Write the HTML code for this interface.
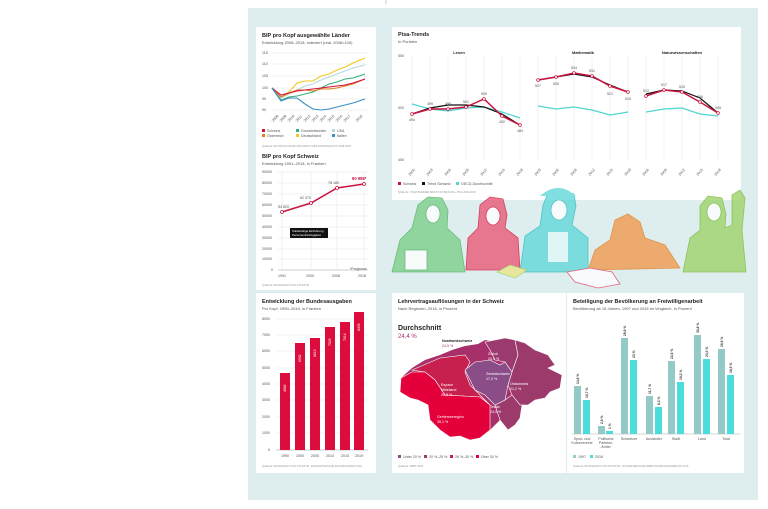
<!DOCTYPE html>
<html><head><meta charset="utf-8"><style>
html,body{margin:0;padding:0;background:#fff}
svg{display:block;font-family:"Liberation Sans",sans-serif}
.t{font-size:5.5px;font-weight:bold;fill:#222}
.s{font-size:4px;fill:#555}
.a{font-size:3.6px;fill:#555}
.g{stroke:#e4e4e4;stroke-width:0.5}
</style></head><body>
<svg width="768" height="509" viewBox="0 0 768 509">
<rect x="0" y="0" width="768" height="509" fill="#fff"/>
<line x1="386" y1="0" x2="386" y2="4" stroke="#999" stroke-width="0.5"/>
<rect x="248" y="8" width="510" height="492" fill="#deeeee"/>
<rect x="256" y="27" width="120" height="263" fill="#fff"/>
<rect x="392" y="27" width="349" height="173" fill="#fff"/>
<rect x="256" y="293" width="120" height="180" fill="#fff"/>
<rect x="392" y="293" width="174" height="180" fill="#fff"/>
<rect x="567" y="293" width="177" height="180" fill="#fff"/>

<text x="262" y="37" class="t">BIP pro Kopf ausgewählte Länder</text>
<text x="262" y="44" class="s">Entwicklung 2008–2018, indexiert (real, 2008=100)</text>
<g class="a">
<text x="262" y="54">115</text><text x="262" y="65">110</text><text x="262" y="77">105</text><text x="262" y="89">100</text><text x="262" y="100">95</text><text x="262" y="111">90</text>
</g>
<g class="g"><line x1="272" y1="53" x2="368" y2="53"/><line x1="272" y1="64" x2="368" y2="64"/><line x1="272" y1="76" x2="368" y2="76"/><line x1="272" y1="88" x2="368" y2="88"/><line x1="272" y1="99" x2="368" y2="99"/><line x1="272" y1="110" x2="368" y2="110"/></g>
<g fill="none" stroke-width="1.1">
<polyline stroke="#f2c81e" points="272,88 281,97 289,92 297,83 305,81 313,81 321,76 329,74 337,70 345,67 353,63 365,58"/>
<polyline stroke="#b5d9dc" points="272,88 281,98 289,94 297,90 305,86 313,84 321,80 329,77 337,74 345,71 353,68 365,65"/>
<polyline stroke="#34b07a" points="272,88 281,100 289,97 297,96 305,94 313,92 321,88 329,84 337,82 345,79 353,78 365,74"/>
<polyline stroke="#e07e1f" points="272,88 281,97 289,93 297,90 305,90 313,91 321,89 329,89 337,88 345,86 353,84 365,79"/>
<polyline stroke="#d4133d" points="272,88 281,95 289,93 297,91 305,90 313,89 321,88 329,87 337,86 345,85 353,83 365,79"/>
<polyline stroke="#3b8fc2" points="272,88 281,101 289,98 297,98 305,104 313,109 321,110 329,109 337,107 345,105 353,103 365,99"/>
</g>
<g class="a">
<text transform="translate(273,122) rotate(-45)">2008</text><text transform="translate(281,122) rotate(-45)">2009</text><text transform="translate(289,122) rotate(-45)">2010</text><text transform="translate(297,122) rotate(-45)">2011</text><text transform="translate(305,122) rotate(-45)">2012</text><text transform="translate(313,122) rotate(-45)">2013</text><text transform="translate(321,122) rotate(-45)">2014</text><text transform="translate(329,122) rotate(-45)">2015</text><text transform="translate(337,122) rotate(-45)">2016</text><text transform="translate(345,122) rotate(-45)">2017</text><text transform="translate(357,122) rotate(-45)">2018</text>
</g>
<rect x="262" y="129" width="3" height="3" fill="#d4133d"/><text x="267" y="132" class="a">Schweiz</text>
<rect x="262" y="134" width="3" height="3" fill="#e07e1f"/><text x="267" y="137" class="a">Österreich</text>
<rect x="296" y="129" width="3" height="3" fill="#34b07a"/><text x="301" y="132" class="a">Grossbritannien</text>
<rect x="296" y="134" width="3" height="3" fill="#f2c81e"/><text x="301" y="137" class="a">Deutschland</text>
<rect x="332" y="129" width="3" height="3" fill="#b5d9dc"/><text x="337" y="132" class="a">USA</text>
<rect x="332" y="134" width="3" height="3" fill="#3b8fc2"/><text x="337" y="137" class="a">Italien</text>
<text x="262" y="147" style="font-size:2.6px;fill:#999">QUELLE: ENTWICKLUNGEN DES BRUTTOINLANDPRODUKTS 2008-2018</text>

<text x="262" y="158" class="t">BIP pro Kopf Schweiz</text>
<text x="262" y="165" class="s">Entwicklung 1991–2018, in Franken</text>
<g class="a">
<text x="262" y="173">90000</text><text x="262" y="184">80000</text><text x="262" y="195">70000</text><text x="262" y="206">60000</text><text x="262" y="217">50000</text><text x="262" y="228">40000</text><text x="262" y="239">30000</text><text x="262" y="250">20000</text><text x="262" y="260">10000</text><text x="271" y="271">0</text>
</g>
<g class="g"><line x1="278" y1="172" x2="368" y2="172"/><line x1="278" y1="183" x2="368" y2="183"/><line x1="278" y1="194" x2="368" y2="194"/><line x1="278" y1="205" x2="368" y2="205"/><line x1="278" y1="216" x2="368" y2="216"/><line x1="278" y1="227" x2="368" y2="227"/><line x1="278" y1="238" x2="368" y2="238"/><line x1="278" y1="249" x2="368" y2="249"/><line x1="278" y1="259" x2="368" y2="259"/><line x1="278" y1="270" x2="368" y2="270" stroke="#999"/>
<line x1="282" y1="172" x2="282" y2="270"/><line x1="311" y1="172" x2="311" y2="270"/><line x1="337" y1="172" x2="337" y2="270"/><line x1="364" y1="172" x2="364" y2="270"/></g>
<polyline fill="none" stroke="#c8143f" stroke-width="1.5" points="282,212 311,203 337,188 364,184"/>
<g fill="#fff" stroke="#c8143f" stroke-width="0.8"><circle cx="282" cy="212" r="1.5"/><circle cx="311" cy="203" r="1.5"/><circle cx="337" cy="188" r="1.5"/><circle cx="364" cy="184" r="1.5"/></g>
<g class="a"><text x="278" y="208">54 820</text><text x="300" y="199">62 379</text><text x="328" y="184">78 180</text></g>
<text x="352" y="180" style="font-size:4.2px;font-weight:bold;fill:#c8143f">80 986*</text>
<rect x="290" y="228" width="38" height="10" fill="#111"/>
<text x="292" y="232" style="font-size:3px;fill:#fff">Vollständige Einführung</text>
<text x="292" y="236" style="font-size:3px;fill:#fff">Personenfreizügigkeit</text>
<g class="a"><text x="278" y="277">1991</text><text x="306" y="277">2000</text><text x="332" y="277">2008</text><text x="358" y="277">2018</text><text x="350" y="270">*Prognose</text></g>
<text x="262" y="286" style="font-size:2.6px;fill:#999">QUELLE: BUNDESAMT FÜR STATISTIK</text>

<text x="398" y="36" class="t">Pisa-Trends</text>
<text x="398" y="43" class="s">In Punkten</text>
<g style="font-size:4px;font-weight:bold;fill:#222"><text x="459" y="54" text-anchor="middle">Lesen</text><text x="583" y="54" text-anchor="middle">Mathematik</text><text x="682" y="54" text-anchor="middle">Naturwissenschaften</text></g>
<g class="a"><text x="398" y="57">550</text><text x="398" y="109">500</text><text x="398" y="161">450</text></g>
<g class="g">
<line x1="412" y1="56" x2="412" y2="160"/><line x1="430" y1="56" x2="430" y2="160"/><line x1="448" y1="56" x2="448" y2="160"/><line x1="466" y1="56" x2="466" y2="160"/><line x1="484" y1="56" x2="484" y2="160"/><line x1="502" y1="56" x2="502" y2="160"/><line x1="520" y1="56" x2="520" y2="160"/>
<line x1="538" y1="56" x2="538" y2="160"/><line x1="556" y1="56" x2="556" y2="160"/><line x1="574" y1="56" x2="574" y2="160"/><line x1="592" y1="56" x2="592" y2="160"/><line x1="610" y1="56" x2="610" y2="160"/><line x1="628" y1="56" x2="628" y2="160"/>
<line x1="646" y1="56" x2="646" y2="160"/><line x1="664" y1="56" x2="664" y2="160"/><line x1="682" y1="56" x2="682" y2="160"/><line x1="700" y1="56" x2="700" y2="160"/><line x1="718" y1="56" x2="718" y2="160"/>
</g>
<g fill="none" stroke-width="1.2">
<polyline stroke="#4fd6d0" points="412,104 430,109 448,111 466,108 484,107 502,112 520,118"/>
<polyline stroke="#4fd6d0" points="538,106 556,109 574,107 592,110 610,115 628,112"/>
<polyline stroke="#4fd6d0" points="646,112 664,109 682,108 700,114 718,116"/>
<polyline stroke="#111" points="412,114 430,108 448,105 466,105 484,107 502,114 520,125"/>
<polyline stroke="#111" points="538,80 556,77 574,74 592,77 610,85 628,92"/>
<polyline stroke="#111" points="646,94 664,90 682,91 700,98 718,113"/>
<polyline stroke="#c8143f" stroke-width="1.5" points="412,114 430,109 448,109 466,107 484,99 502,116 520,125"/>
<polyline stroke="#c8143f" stroke-width="1.5" points="538,80 556,77 574,73 592,76 610,86 628,92"/>
<polyline stroke="#c8143f" stroke-width="1.5" points="646,96 664,90 682,92 700,102 718,113"/>
</g>
<g fill="#fff" stroke="#c8143f" stroke-width="0.7">
<circle cx="412" cy="114" r="1.4"/><circle cx="430" cy="109" r="1.4"/><circle cx="448" cy="109" r="1.4"/><circle cx="466" cy="107" r="1.4"/><circle cx="484" cy="99" r="1.4"/><circle cx="502" cy="116" r="1.4"/><circle cx="520" cy="125" r="1.4"/>
<circle cx="538" cy="80" r="1.4"/><circle cx="556" cy="77" r="1.4"/><circle cx="574" cy="73" r="1.4"/><circle cx="592" cy="76" r="1.4"/><circle cx="610" cy="86" r="1.4"/><circle cx="628" cy="92" r="1.4"/>
<circle cx="646" cy="96" r="1.4"/><circle cx="664" cy="90" r="1.4"/><circle cx="682" cy="92" r="1.4"/><circle cx="700" cy="102" r="1.4"/><circle cx="718" cy="113" r="1.4"/>
</g>
<g class="a" text-anchor="middle">
<text x="412" y="121">494</text><text x="430" y="105">499</text><text x="448" y="105">499</text><text x="466" y="103">501</text><text x="484" y="95">509</text><text x="502" y="123">492</text><text x="520" y="132">484</text>
<text x="538" y="87">527</text><text x="556" y="85">530</text><text x="574" y="69">534</text><text x="592" y="72">531</text><text x="610" y="95">521</text><text x="628" y="100">515</text>
<text x="646" y="92">512</text><text x="664" y="86">517</text><text x="682" y="88">515</text><text x="700" y="98">506</text><text x="718" y="109">495</text>
</g>
<g class="a">
<text transform="translate(410,176) rotate(-50)">2000</text><text transform="translate(428,176) rotate(-50)">2003</text><text transform="translate(446,176) rotate(-50)">2006</text><text transform="translate(464,176) rotate(-50)">2009</text><text transform="translate(482,176) rotate(-50)">2012</text><text transform="translate(500,176) rotate(-50)">2015</text><text transform="translate(518,176) rotate(-50)">2018</text>
<text transform="translate(536,176) rotate(-50)">2003</text><text transform="translate(554,176) rotate(-50)">2006</text><text transform="translate(572,176) rotate(-50)">2009</text><text transform="translate(590,176) rotate(-50)">2012</text><text transform="translate(608,176) rotate(-50)">2015</text><text transform="translate(626,176) rotate(-50)">2018</text>
<text transform="translate(644,176) rotate(-50)">2006</text><text transform="translate(662,176) rotate(-50)">2009</text><text transform="translate(680,176) rotate(-50)">2012</text><text transform="translate(698,176) rotate(-50)">2015</text><text transform="translate(716,176) rotate(-50)">2018</text>
</g>
<rect x="398" y="182" width="3" height="3" fill="#c8143f"/><text x="403" y="185" class="a">Schweiz</text>
<rect x="422" y="182" width="3" height="3" fill="#111"/><text x="427" y="185" class="a">Trend Schweiz</text>
<rect x="456" y="182" width="3" height="3" fill="#4fd6d0"/><text x="461" y="185" class="a">OECD-Durchschnitt</text>
<text x="398" y="193" style="font-size:2.6px;fill:#999">QUELLE: STAATSSEKRETARIAT FÜR BILDUNG, PISA 2000-2018</text>

<!-- illustrations -->
<g opacity="0.8" stroke-width="0.8">
<path d="M392,272 L400,240 L412,228 L418,205 L428,197 L442,198 L448,210 L447,228 L460,240 L465,272 Z" fill="#7dcf8a" stroke="#4fae62"/>
<ellipse cx="433" cy="214" rx="7" ry="9" fill="#fff" stroke="#4fae62"/>
<rect x="405" y="250" width="22" height="20" fill="#fff" stroke="#4fae62"/>
<path d="M466,270 L468,238 L478,228 L480,205 L490,197 L503,199 L507,215 L505,228 L518,238 L520,270 Z" fill="#ea5a78" stroke="#d4133d"/>
<ellipse cx="493" cy="216" rx="7" ry="9" fill="#fff" stroke="#d4133d"/>
<path d="M520,272 L525,236 L540,226 L543,205 L548,193 L560,190 L574,194 L576,206 L572,225 L588,238 L588,272 Z" fill="#63d8da" stroke="#2fb9bd"/>
<path d="M540,196 Q558,180 576,196 Z" fill="#63d8da"/>
<ellipse cx="559" cy="210" rx="8" ry="10" fill="#fff" stroke="#2fb9bd"/>
<rect x="548" y="232" width="20" height="30" fill="#fff" opacity="0.8"/>
<path d="M588,270 L595,250 L610,240 L615,220 L628,214 L640,222 L645,238 L665,245 L680,268 Z" fill="#f09a4f" stroke="#e07e1f"/>
<path d="M683,272 L690,238 L700,230 L700,206 L708,196 L722,198 L726,214 L725,228 L732,225 L732,195 L740,190 L745,198 L742,230 L746,272 Z" fill="#9fd36b" stroke="#7ab83a"/>
<ellipse cx="714" cy="212" rx="7" ry="9" fill="#fff" stroke="#7ab83a"/>
<path d="M497,272 L510,265 L527,270 L515,278 Z" fill="#e8e58a" stroke="#8ec853" stroke-width="0.6"/>
<path d="M567,272 L590,268 L612,272 L620,284 L598,288 L575,282 Z" fill="#fff" stroke="#e43f62"/>
</g>

<text x="262" y="303" class="t">Entwicklung der Bundesausgaben</text>
<text x="262" y="310" class="s">Pro Kopf, 1990–2019, in Franken</text>
<g class="a">
<text x="262" y="320">8000</text><text x="262" y="336">7000</text><text x="262" y="352">6000</text><text x="262" y="369">5000</text><text x="262" y="385">4000</text><text x="262" y="401">3000</text><text x="262" y="418">2000</text><text x="262" y="434">1000</text><text x="268" y="451">0</text>
</g>
<g class="g"><line x1="276" y1="319" x2="368" y2="319"/><line x1="276" y1="335" x2="368" y2="335"/><line x1="276" y1="351" x2="368" y2="351"/><line x1="276" y1="368" x2="368" y2="368"/><line x1="276" y1="384" x2="368" y2="384"/><line x1="276" y1="400" x2="368" y2="400"/><line x1="276" y1="417" x2="368" y2="417"/><line x1="276" y1="433" x2="368" y2="433"/><line x1="276" y1="450" x2="368" y2="450" stroke="#999"/></g>
<g fill="#dc0d3c">
<rect x="280" y="373" width="10" height="77"/><rect x="295" y="343" width="10" height="107"/><rect x="310" y="338" width="10" height="112"/><rect x="325" y="327" width="10" height="123"/><rect x="340" y="322" width="10" height="128"/><rect x="354" y="312" width="10" height="138"/>
</g>
<g style="font-size:3.4px;fill:#fff">
<text transform="translate(286,392) rotate(-90)">4682</text><text transform="translate(301,362) rotate(-90)">6542</text><text transform="translate(316,357) rotate(-90)">6815</text><text transform="translate(331,346) rotate(-90)">7529</text><text transform="translate(346,341) rotate(-90)">7814</text><text transform="translate(360,331) rotate(-90)">8439</text>
</g>
<g class="a" text-anchor="middle"><text x="285" y="457">1990</text><text x="300" y="457">2000</text><text x="315" y="457">2005</text><text x="330" y="457">2010</text><text x="345" y="457">2015</text><text x="359" y="457">2019</text></g>
<text x="262" y="467" style="font-size:2.6px;fill:#999">QUELLE: BUNDESAMT FÜR STATISTIK, EIDGENÖSSISCHE FINANZVERWALTUNG</text>

<text x="398" y="303" class="t">Lehrvertragsauflösungen in der Schweiz</text>
<text x="398" y="310" class="s">Nach Regionen, 2016, in Prozent</text>
<text x="398" y="330" style="font-size:7px;font-weight:bold;fill:#222">Durchschnitt</text>
<text x="398" y="338" style="font-size:6px;fill:#a8306a">24,4 %</text>
<polygon fill="#a8306a" points="401,378 412,368 425,360 440,355 452,350 465,346 478,344 485,340 495,342 505,338 515,340 525,343 535,350 548,355 555,365 548,368 562,375 560,388 550,392 545,398 535,400 528,405 522,405 520,418 515,425 508,430 500,420 490,430 480,438 470,440 460,436 450,437 440,430 430,420 428,405 418,400 410,398 400,392"/>
<g stroke="#fff" stroke-width="0.6">
<polygon fill="#c8204e" points="412,370 440,358 465,355 470,362 465,372 470,385 480,395 490,405 480,397 445,395 435,380 425,372"/>
<polygon fill="#e4003a" points="401,378 412,372 425,372 435,380 445,395 480,397 490,405 490,430 480,438 470,440 460,436 450,437 440,430 430,420 428,405 418,400 410,398 400,392"/>
<polygon fill="#9b3a6e" points="485,342 505,338 515,340 518,355 512,372 505,362 495,360 490,350"/>
<polygon fill="#9c3a6c" points="515,340 525,343 535,350 548,355 555,365 548,368 562,375 560,388 550,392 545,398 535,400 528,405 520,405 512,395 508,385 512,372 518,355"/>
<polygon fill="#9c3a6c" points="505,400 512,395 520,405 522,405 520,418 515,425 508,430 500,420 495,405"/>
<polygon fill="#8a4d88" points="465,370 475,362 490,360 500,365 505,362 512,372 508,385 505,400 495,405 485,395 475,390 470,380"/>
</g>
<g style="font-size:3.6px;fill:#fff">
<text x="486" y="375">Zentralschweiz</text><text x="486" y="380">17,3 %</text>
<text x="441" y="386">Espace</text><text x="441" y="391">Mittelland</text><text x="441" y="396">26,8 %</text>
<text x="437" y="418">Genferseeregion</text><text x="437" y="423">35,1 %</text>
<text x="488" y="355">Zürich</text><text x="488" y="360">20,4 %</text>
<text x="510" y="385">Ostschweiz</text><text x="510" y="390">21,2 %</text>
<text x="490" y="408">Tessin</text><text x="490" y="413">24,9 %</text>
</g>
<text x="442" y="342" style="font-size:3.6px;font-weight:bold;fill:#222">Nordwestschweiz</text>
<text x="442" y="347" style="font-size:3.6px;fill:#a8306a">24,5 %</text>
<g class="a">
<rect x="398" y="455" width="3" height="3" fill="#8a4d88"/><text x="403" y="458">Unter 20 %</text>
<rect x="424" y="455" width="3" height="3" fill="#9c3a6c"/><text x="429" y="458">20 %–25 %</text>
<rect x="450" y="455" width="3" height="3" fill="#c8204e"/><text x="455" y="458">26 %–30 %</text>
<rect x="476" y="455" width="3" height="3" fill="#e4003a"/><text x="481" y="458">Über 30 %</text>
</g>
<text x="398" y="467" style="font-size:2.6px;fill:#999">QUELLE: SBBK 2018</text>

<text x="573" y="303" class="t">Beteiligung der Bevölkerung an Freiwilligenarbeit</text>
<text x="573" y="310" class="s">Bevölkerung ab 15 Jahren, 1997 und 2016 im Vergleich, in Prozent</text>
<line x1="572" y1="434" x2="740" y2="434" stroke="#999" stroke-width="0.4"/>
<g fill="#93c9c6">
<rect x="574" y="386" width="7" height="48"/><rect x="598" y="426" width="7" height="8"/><rect x="621" y="338" width="7" height="96"/><rect x="646" y="396" width="7" height="38"/><rect x="668" y="361" width="7" height="73"/><rect x="694" y="335" width="7" height="99"/><rect x="718" y="349" width="7" height="85"/>
</g>
<g fill="#4bdcdc">
<rect x="583" y="400" width="7" height="34"/><rect x="606" y="431" width="7" height="3"/><rect x="630" y="360" width="7" height="74"/><rect x="655" y="407" width="7" height="27"/><rect x="677" y="382" width="7" height="52"/><rect x="703" y="359" width="7" height="75"/><rect x="727" y="375" width="7" height="59"/>
</g>
<g style="font-size:3.3px;font-weight:bold;fill:#333">
<text transform="translate(579,384) rotate(-90)">14,8 %</text><text transform="translate(588,398) rotate(-90)">10,7 %</text>
<text transform="translate(603,424) rotate(-90)">2,6 %</text><text transform="translate(611,429) rotate(-90)">1 %</text>
<text transform="translate(626,336) rotate(-90)">29,9 %</text><text transform="translate(635,358) rotate(-90)">23 %</text>
<text transform="translate(651,394) rotate(-90)">11,7 %</text><text transform="translate(660,405) rotate(-90)">8,3 %</text>
<text transform="translate(673,359) rotate(-90)">22,8 %</text><text transform="translate(682,380) rotate(-90)">16,2 %</text>
<text transform="translate(699,333) rotate(-90)">30,8 %</text><text transform="translate(708,357) rotate(-90)">23,4 %</text>
<text transform="translate(723,347) rotate(-90)">26,5 %</text><text transform="translate(732,373) rotate(-90)">18,5 %</text>
</g>
<g class="a" text-anchor="middle">
<text x="582" y="440">Sport- und</text><text x="582" y="444">Kulturvereine</text>
<text x="606" y="440">Politische</text><text x="606" y="444">Parteien,</text><text x="606" y="448">Ämter</text>
<text x="629" y="440">Schweizer</text><text x="654" y="440">Ausländer</text><text x="676" y="440">Stadt</text><text x="702" y="440">Land</text><text x="726" y="440">Total</text>
</g>
<rect x="573" y="455" width="3" height="3" fill="#93c9c6"/><text x="578" y="458" class="a">1997</text>
<rect x="590" y="455" width="3" height="3" fill="#4bdcdc"/><text x="595" y="458" class="a">2016</text>
<text x="573" y="467" style="font-size:2.6px;fill:#999">QUELLE: BUNDESAMT FÜR STATISTIK, SCHWEIZERISCHE ARBEITSKRÄFTEERHEBUNG 2016</text>
</svg>
</body></html>
